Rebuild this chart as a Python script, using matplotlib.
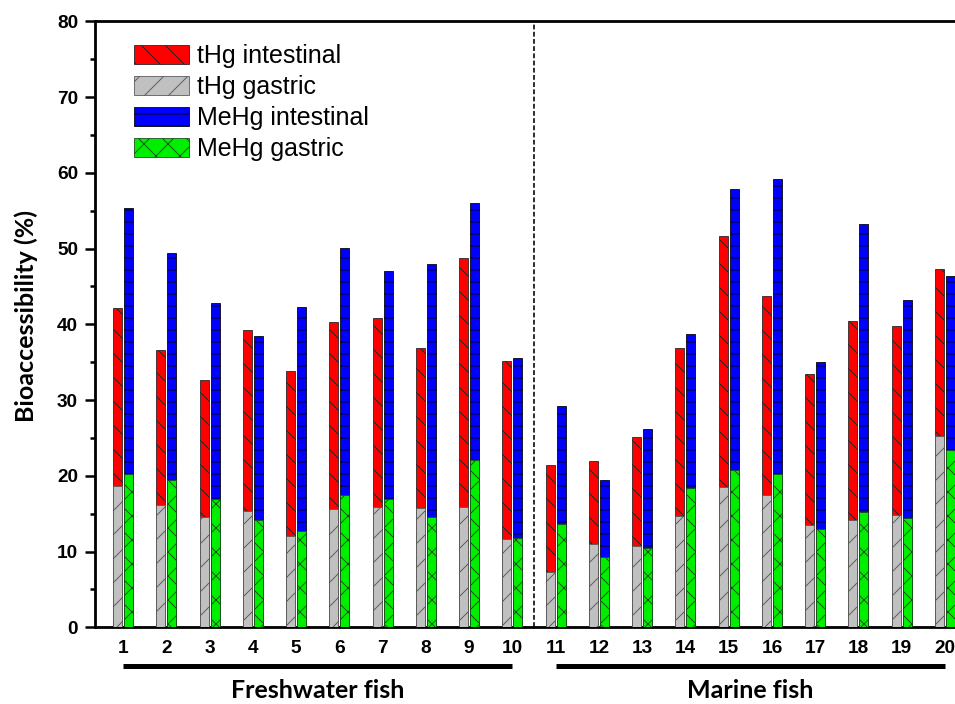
import numpy as np
import matplotlib
matplotlib.use("Agg")
import matplotlib.pyplot as plt
from matplotlib.ticker import MultipleLocator
import matplotlib.transforms as mtransforms

# ---- data ----
fish = list(range(1, 21))
tick_labels = [str(i) for i in fish]
thg_intestinal = [42.1, 36.6, 32.6, 39.2, 33.9, 40.3, 40.8, 36.9, 48.7, 35.1,
                  21.4, 22.0, 25.1, 36.9, 51.7, 43.7, 33.5, 40.5, 39.8, 47.3]
thg_gastric = [18.7, 16.2, 14.5, 15.3, 12.0, 15.6, 15.9, 15.8, 15.9, 11.6,
               7.3, 11.0, 10.7, 14.7, 18.5, 17.5, 13.5, 14.2, 14.8, 25.2]
mehg_intestinal = [55.4, 49.4, 42.8, 38.5, 42.3, 50.1, 47.1, 47.9, 56.0, 35.6,
                   29.2, 19.4, 26.2, 38.7, 57.9, 59.2, 35.0, 53.2, 43.2, 46.4]
mehg_gastric = [20.3, 19.4, 17.0, 14.2, 12.7, 17.5, 16.9, 14.5, 22.1, 11.8,
                13.7, 9.3, 10.5, 18.4, 20.8, 20.2, 13.0, 15.2, 14.4, 23.4]
groups = {"Freshwater fish": fish[:10], "Marine fish": fish[10:]}
divider = 10.5

plt.rcParams['hatch.linewidth'] = 0.9
plt.rcParams['font.family'] = ['Liberation Sans', 'DejaVu Sans']

DPI = 72
fig = plt.figure(figsize=(955 / DPI, 704 / DPI), dpi=DPI)
ax = fig.add_axes([95 / 955, 1 - 627.3 / 704, 878 / 955, 606 / 704])

x = np.array(fish, dtype=float)
w = 0.208
off = 0.127

ax.bar(x - off, thg_intestinal, w, color='#FF0000', edgecolor='#222222',
       hatch='\\', linewidth=0.8, label='tHg intestinal', zorder=2)
ax.bar(x - off, thg_gastric, w, color='#C0C0C0', edgecolor='#555555',
       hatch='/', linewidth=0.8, label='tHg gastric', zorder=3)
ax.bar(x + off, mehg_intestinal, w, color='#0000FF', edgecolor='#000000',
       hatch='-', linewidth=0.8, label='MeHg intestinal', zorder=2)
ax.bar(x + off, mehg_gastric, w, color='#00EE00', edgecolor='#1a4a1a',
       hatch='x', linewidth=0.8, label='MeHg gastric', zorder=3)

ax.axvline(divider, color='black', linestyle=(0, (3, 1.5)), linewidth=1.6, zorder=1)

ax.set_xlim(0.35, 20.65)
ax.set_ylim(0, 80)
ax.yaxis.set_major_locator(MultipleLocator(10))
ax.yaxis.set_minor_locator(MultipleLocator(5))
ax.set_xticks(x)
ax.set_xticklabels(tick_labels)

for s in ['left', 'bottom', 'top', 'right']:
    ax.spines[s].set_linewidth(2.8)

ax.tick_params(axis='y', which='major', length=10, width=2.5, direction='out',
               labelsize=19, pad=7)
ax.tick_params(axis='y', which='minor', length=5, width=2.5, direction='out')
ax.tick_params(axis='x', which='both', length=0, labelsize=19, pad=13)
for lab in ax.get_xticklabels() + ax.get_yticklabels():
    lab.set_fontweight('bold')

ax.set_ylabel('Bioaccessibility (%)', fontsize=25, fontweight='bold',
              family=['Lato', 'DejaVu Sans'])
ax.yaxis.set_label_coords(-0.065, 0.514)

trans = mtransforms.blended_transform_factory(ax.transData, ax.transAxes)
for name, members in groups.items():
    ax.plot([members[0], members[-1]], [-0.0639, -0.0639], color='black',
            linewidth=5, transform=trans, clip_on=False, solid_capstyle='butt')
    ax.text(np.mean(members), -0.0845, name, transform=trans, ha='center',
            va='top', fontsize=25, fontweight='bold', family=['Lato', 'DejaVu Sans'])

leg = ax.legend(loc='upper left', bbox_to_anchor=(0.0444, 0.962), frameon=False,
                fontsize=25, handlelength=2.2, handleheight=0.8,
                handletextpad=0.32, labelspacing=0.28, borderpad=0,
                borderaxespad=0)

fig.savefig('out.png', dpi=DPI)
